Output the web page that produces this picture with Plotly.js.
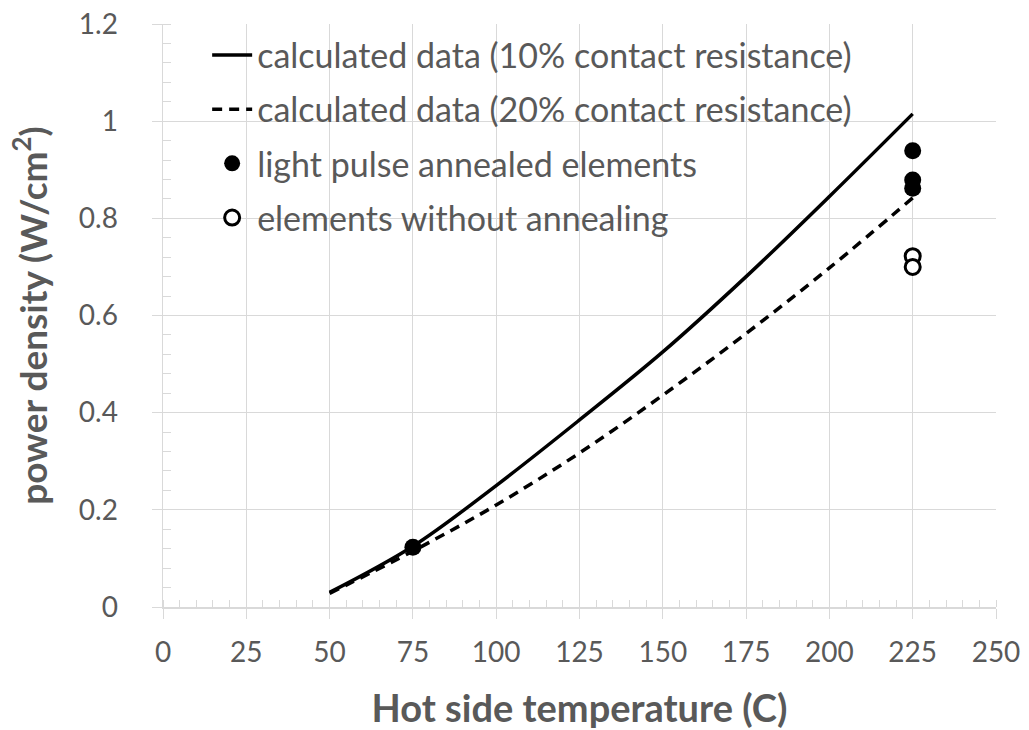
<!DOCTYPE html>
<html><head><meta charset="utf-8">
<script src="https://cdn.plot.ly/plotly-3.0.1.min.js"></script>
<style>body{margin:0;background:#fff}#c{width:1029px;height:730px}</style>
</head><body><div id="c"></div>
<script>
const tempCalc = [50, 75, 100, 125, 150, 175, 200, 225];
const calc10 = [0.03, 0.125, 0.25, 0.385, 0.525, 0.68, 0.845, 1.015];
const calc20 = [0.028, 0.115, 0.21, 0.317, 0.436, 0.563, 0.698, 0.842];
const annealedT = [75, 225, 225, 225];
const annealedP = [0.123, 0.939, 0.879, 0.862];
const rawT = [225, 225];
const rawP = [0.722, 0.70];
const names = ["calculated data (10% contact resistance)", "calculated data (20% contact resistance)",
  "light pulse annealed elements", "elements without annealing"];

const gray = '#595959';
const font = 'Lato, "Open Sans", sans-serif';
const traces = [
  {x: tempCalc, y: calc10, mode: 'lines', name: names[0], legendgroup: 'a',
   line: {color: '#000', width: 3.5, shape: 'spline'}},
  {x: tempCalc, y: calc20, mode: 'lines', name: names[1], legendgroup: 'b',
   line: {color: '#000', width: 3.5, dash: '10px,7px', shape: 'spline'}},
  {x: annealedT, y: annealedP, mode: 'markers', name: names[2], legendgroup: 'c',
   marker: {color: '#000', size: 17, symbol: 'circle'}},
  {x: rawT, y: rawP, mode: 'markers', name: names[3], legendgroup: 'd',
   marker: {color: '#fff', size: 15, symbol: 'circle', line: {color: '#000', width: 3}}}
];
const layout = {
  width: 1029, height: 730,
  margin: {l: 163, r: 33, t: 24, b: 123},
  paper_bgcolor: '#fff', plot_bgcolor: '#fff',
  font: {family: font, color: gray, size: 28},
  showlegend: true,
  legend: {x: 0.053, y: 0.996, xanchor: 'left', yanchor: 'top', bgcolor: 'rgba(0,0,0,0)',
    font: {size: 34, color: gray}, traceorder: 'grouped', tracegroupgap: 7, itemwidth: 40},
  xaxis: {range: [0, 250], dtick: 25, tick0: 0, showgrid: true, gridcolor: '#d9d9d9', gridwidth: 1,
    zeroline: false, showline: true, linecolor: '#d9d9d9', linewidth: 1.5,
    ticks: 'outside', ticklen: 10, tickcolor: '#d9d9d9', tickfont: {size: 28, color: gray},
    ticklabelstandoff: 10,
    minor: {dtick: 5, ticks: 'inside', ticklen: 7, tickcolor: '#d9d9d9', showgrid: false},
    title: {text: '<b>Hot side temperature (C)</b>', font: {size: 38, color: gray}, standoff: 31}},
  yaxis: {range: [0, 1.2], dtick: 0.2, tick0: 0, showgrid: true, gridcolor: '#d9d9d9', gridwidth: 1,
    zeroline: false, showline: true, linecolor: '#d9d9d9', linewidth: 1.5,
    ticks: 'outside', ticklen: 10, tickcolor: '#d9d9d9', tickfont: {size: 28, color: gray},
    ticklabelstandoff: 28,
    minor: {dtick: 0.04, ticks: 'inside', ticklen: 8, tickcolor: '#d9d9d9', showgrid: false},
    title: {text: '<b>power density (W/cm<sup>2</sup>)</b>', font: {size: 37, color: gray}, standoff: 20}}
};
Plotly.newPlot('c', traces, layout, {displayModeBar: false, staticPlot: true});
</script></body></html>
